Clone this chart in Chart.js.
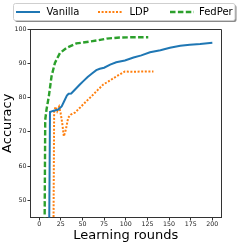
<!DOCTYPE html>
<html><head><meta charset="utf-8">
<script src="https://cdn.jsdelivr.net/npm/chart.js@4"></script>
<style>html,body{margin:0;padding:0;background:#fff;overflow:hidden;}</style>
</head><body>
<canvas id="c" width="245" height="245"></canvas>
<script>
const seriesNames = ['Vanilla', 'LDP', 'FedPer'];
const seriesColors = ['#1f77b4', '#ff7f0e', '#2ca02c'];

const vanillaX = [1, 10, 11, 12.5, 16, 22, 26, 29, 32, 34, 37, 42, 47, 51, 56, 61, 66, 70, 75, 82, 89, 99, 109, 118, 128, 140, 151, 163, 174, 186, 200];
const vanillaY = [10, 10, 20, 75.8, 76.1, 76.5, 77.4, 79, 80.6, 81.1, 81.2, 82.5, 83.8, 84.8, 86, 87, 88, 88.4, 88.7, 89.6, 90.3, 90.8, 91.7, 92.3, 93.2, 93.8, 94.5, 95.1, 95.4, 95.6, 96.0];

const ldpX = [1, 15.8, 16.5, 17.3, 19, 20.8, 23, 24.7, 26.6, 28.5, 30.9, 33.5, 36.3, 41.3, 47, 52.8, 60.6, 68, 74, 80, 89.4, 99, 108.7, 118, 132];
const ldpY = [10, 10, 40, 76, 77.3, 76, 77.3, 75.6, 72.6, 68.7, 70.7, 74.1, 75, 75.6, 77, 78.5, 80.4, 82.3, 83.8, 84.7, 86.2, 87.6, 87.5, 87.6, 87.6];

const fedperX = [1, 5, 6, 7, 8.5, 11.2, 14.3, 18.2, 24, 31.7, 43, 55, 68, 78, 93, 108, 126];
const fedperY = [10, 10, 30, 73.5, 76.5, 80.4, 86.2, 90.1, 93, 94.5, 95.8, 96.2, 96.7, 97.2, 97.5, 97.6, 97.6];

const xTicks = [0, 25, 50, 75, 100, 125, 150, 175, 200];
const yTicks = [50, 60, 70, 80, 90, 100];

function pts(xs, ys) { return xs.map((x, i) => ({x: x, y: ys[i]})); }

const FONT = 'DejaVu Sans';

const frameAndLegend = {
  id: 'frameAndLegend',
  afterDraw(chart) {
    const ctx = chart.ctx;
    const a = chart.chartArea;
    ctx.save();
    // top & right spines
    ctx.strokeStyle = '#333';
    ctx.lineWidth = 1;
    ctx.beginPath();
    ctx.moveTo(a.left, a.top + 0.5);
    ctx.lineTo(a.right + 0.5, a.top + 0.5);
    ctx.lineTo(a.right + 0.5, a.bottom);
    ctx.stroke();
    // legend box with shadow
    const bx = 13.5, by = 3.5, bw = 221.5, bh = 17;
    ctx.fillStyle = '#8a8a8a';
    ctx.beginPath();
    ctx.roundRect(bx + 1.5, by + 1.5, bw, bh, 2);
    ctx.fill();
    ctx.fillStyle = '#fff';
    ctx.strokeStyle = '#cfcfcf';
    ctx.beginPath();
    ctx.roundRect(bx, by, bw, bh, 2);
    ctx.fill();
    ctx.stroke();
    const items = [
      {lx: 16, tx: 46.5},
      {lx: 98, tx: 129.5},
      {lx: 170, tx: 199}
    ];
    const ly = 12;
    chart.data.datasets.forEach((ds, i) => {
      const it = items[i];
      ctx.strokeStyle = ds.borderColor;
      ctx.lineWidth = ds.borderWidth;
      ctx.setLineDash(ds.borderDash || []);
      ctx.beginPath();
      ctx.moveTo(it.lx, ly);
      ctx.lineTo(it.lx + 24, ly);
      ctx.stroke();
      ctx.setLineDash([]);
      ctx.fillStyle = '#000';
      ctx.font = '10px "' + FONT + '"';
      ctx.textBaseline = 'middle';
      ctx.textAlign = 'left';
      ctx.fillText(ds.label, it.tx, ly);
    });
    ctx.restore();
  }
};

new Chart(document.getElementById('c'), {
  type: 'line',
  data: {
    datasets: [
      {label: seriesNames[0], data: pts(vanillaX, vanillaY), borderColor: seriesColors[0], borderWidth: 2, pointRadius: 0, fill: false, tension: 0},
      {label: seriesNames[1], data: pts(ldpX, ldpY), borderColor: seriesColors[1], borderWidth: 2, borderDash: [2, 1.6], pointRadius: 0, fill: false, tension: 0},
      {label: seriesNames[2], data: pts(fedperX, fedperY), borderColor: seriesColors[2], borderWidth: 2.4, borderDash: [5.5, 2.4], pointRadius: 0, fill: false, tension: 0}
    ]
  },
  options: {
    responsive: false,
    animation: false,
    devicePixelRatio: 1,
    layout: {padding: {top: 29, right: 24, left: 0, bottom: 0}},
    plugins: {legend: {display: false}, tooltip: {enabled: false}},
    scales: {
      x: {
        type: 'linear', min: -10, max: 210,
        afterBuildTicks: s => { s.ticks = xTicks.map(v => ({value: v})); },
        afterFit: s => { s.height = 27.5; },
        ticks: {font: {family: FONT, size: 6.3}, color: '#222', padding: 0.5, maxRotation: 0, autoSkip: false},
        grid: {drawOnChartArea: false, tickLength: 3, color: '#333'},
        border: {display: true, color: '#333', width: 1},
        title: {display: true, text: 'Learning rounds', font: {family: FONT, size: 13}, color: '#000', padding: {top: 0, bottom: 2}}
      },
      y: {
        type: 'linear', min: 45, max: 100,
        afterBuildTicks: s => { s.ticks = yTicks.map(v => ({value: v})); },
        afterFit: s => { s.width = 30.5; },
        ticks: {font: {family: FONT, size: 6.3}, color: '#222', padding: 1, autoSkip: false},
        grid: {drawOnChartArea: false, tickLength: 3, color: '#333'},
        border: {display: true, color: '#333', width: 1},
        title: {display: true, text: 'Accuracy', font: {family: FONT, size: 13}, color: '#000', padding: {top: 0, bottom: 0}}
      }
    }
  },
  plugins: [frameAndLegend]
});
</script>
</body></html>
